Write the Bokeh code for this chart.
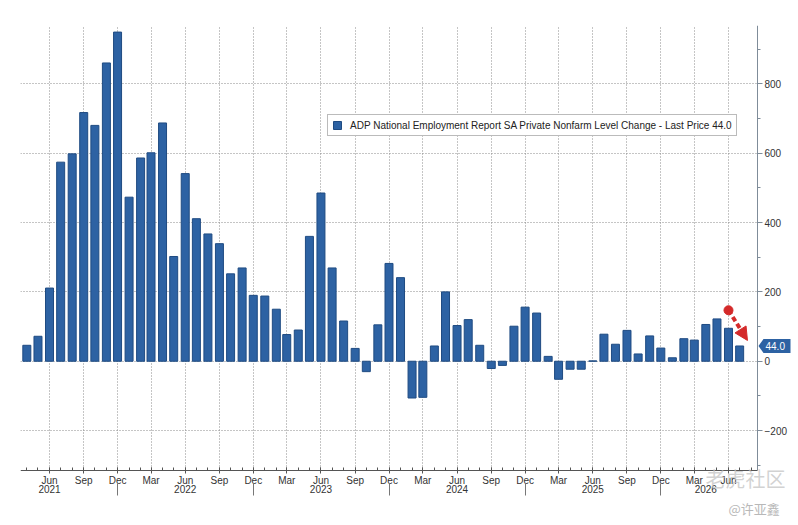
import pandas as pd
from bokeh.plotting import figure
from bokeh.models import (Range1d, DatetimeAxis, FixedTicker, DatetimeTickFormatter,
                          SingleIntervalTicker, Legend, LegendItem, Label, Arrow,
                          NormalHead, PolyAnnotation, BoxAnnotation)
from bokeh.embed import file_html
from bokeh.resources import INLINE

# ---------------- data ----------------
first_month = "2021-04-01"
values = [46, 72, 211, 574, 598, 717, 680, 860, 949, 473, 586, 601, 687, 302, 541, 411,
          367, 339, 252, 269, 190, 188, 150, 77, 90, 360, 485, 269, 116, 37, -30, 105,
          282, 241, -106, -104, 44, 200, 103, 120, 46, -21, -12, 101, 156, 139, 14, -52,
          -23, -23, 1, 78, 49, 89, 21, 73, 38, 10, 65, 61, 106, 122, 95, 44]
series_name = "ADP National Employment Report SA Private Nonfarm Level Change"
quarter_months = [3, 6, 9, 12]
year_label_months = ["2021-06-01", "2022-06-01", "2023-06-01", "2024-06-01", "2025-06-01", "2026-04-01"]
year_sep_months = ["2021-12-01", "2022-12-01", "2023-12-01", "2024-12-01", "2025-12-01"]
plot_lo, plot_hi = -315, 968
arrow_from_value, arrow_to_value = 147, 60

BLUE = "#2d62a3"
RED = "#d42a2a"
FONT = "Liberation Sans"

dates = pd.date_range(first_month, periods=len(values), freq="MS")


def ms(d):
    return pd.Timestamp(d).timestamp() * 1000.0


DAY = 86400000.0
x_start = ms(dates[0]) - 17 * DAY
x_axis = ms(dates[-1]) + 48 * DAY          # where the value axis sits

PLOT_W, PLOT_H = 737, 445                    # chart area inside the axes
FW, FH = 776, 495                            # frame incl. axis strips
ms_px = (x_axis - x_start) / PLOT_W
u_px = (plot_hi - plot_lo) / PLOT_H
x_end = x_start + FW * ms_px
y_start = plot_hi - FH * u_px

p = figure(frame_width=FW, frame_height=FH, x_axis_type="datetime", y_axis_location="right",
           x_range=Range1d(x_start, x_end), y_range=Range1d(y_start, plot_hi),
           output_backend="svg", toolbar_location=None,
           min_border_left=20, min_border_top=25, min_border_right=0, min_border_bottom=0)
p.outline_line_color = None
p.background_fill_color = "white"

bars = p.vbar(x=dates, top=values, bottom=0, width=21.5 * DAY,
              fill_color=BLUE, line_color="#1f4b82", line_width=1)

# ---------------- grids ----------------
quarter_ticks = [ms(d) for d in dates if d.month in quarter_months]
month_ticks = [ms(d) for d in dates] + [ms(dates[-1] + pd.DateOffset(months=1))]

p.xgrid.ticker = FixedTicker(ticks=quarter_ticks)
p.ygrid.ticker = SingleIntervalTicker(interval=200)
for g in (p.xgrid, p.ygrid):
    g.grid_line_color = "#8a8a8a"
    g.grid_line_dash = "1 2"
    g.grid_line_width = 1

# white strips outside the chart area (under the axes)
p.add_layout(BoxAnnotation(left=x_axis, right=x_end, bottom=y_start, top=plot_hi,
                           fill_color="white", fill_alpha=1, line_color=None, level="underlay"))
p.add_layout(BoxAnnotation(left=x_start, right=x_end, bottom=y_start, top=plot_lo,
                           fill_color="white", fill_alpha=1, line_color=None, level="underlay"))

# ---------------- axes ----------------
xa = p.xaxis[0]
xa.fixed_location = plot_lo
xa.bounds = (x_start, x_axis)
xa.ticker = FixedTicker(ticks=quarter_ticks, minor_ticks=month_ticks)
xa.formatter = DatetimeTickFormatter(months="%b", days="%b", years="%b")
xa.axis_line_color = "#555555"
xa.major_tick_line_color = "#555555"
xa.minor_tick_line_color = "#555555"
xa.major_tick_in = 3
xa.major_tick_out = 3
xa.minor_tick_in = 3
xa.minor_tick_out = 0
xa.major_label_standoff = 1
xa.major_label_text_font = FONT
xa.major_label_text_font_size = "10px"
xa.major_label_text_color = "#333333"

ya = DatetimeAxis(fixed_location=plot_lo - 13 * u_px, bounds=(x_start, x_axis))
ya.ticker = FixedTicker(ticks=[ms(d) for d in year_label_months],
                        minor_ticks=[ms(d) for d in year_sep_months])
ya.formatter = DatetimeTickFormatter(months="%Y", days="%Y", years="%Y")
ya.axis_line_color = None
ya.major_tick_line_color = None
ya.minor_tick_line_color = "#777777"
ya.minor_tick_in = 0
ya.minor_tick_out = 12
ya.major_label_standoff = -11
ya.major_label_text_font = FONT
ya.major_label_text_font_size = "10px"
ya.major_label_text_color = "#333333"
p.add_layout(ya, "below")

yax = p.yaxis[0]
yax.fixed_location = x_axis
yax.bounds = (plot_lo, plot_hi)
yax.ticker = SingleIntervalTicker(interval=200, num_minor_ticks=2)
yax.axis_line_color = "#7f8c99"
yax.major_tick_line_color = "#7f8c99"
yax.minor_tick_line_color = "#7f8c99"
yax.major_tick_in = 0
yax.major_tick_out = 5
yax.minor_tick_in = 0
yax.minor_tick_out = 3
yax.major_label_standoff = 2
yax.major_label_text_font = FONT
yax.major_label_text_font_size = "10px"
yax.major_label_text_color = "#333333"

# ---------------- legend ----------------
legend = Legend(items=[LegendItem(label=f"{series_name} - Last Price {values[-1]:.1f}",
                                  renderers=[bars])],
                location=(307, 334 + (FH - PLOT_H)), orientation="vertical")
legend.label_text_font = FONT
legend.label_text_font_size = "10px"
legend.label_text_color = "#222222"
legend.glyph_width = 10
legend.glyph_height = 10
legend.label_standoff = 8
legend.label_height = 12
legend.padding = 4
legend.margin = 0
legend.border_line_color = "#777777"
legend.border_line_width = 1
legend.background_fill_color = "white"
legend.background_fill_alpha = 1
p.add_layout(legend)

# ---------------- red arrow ----------------
a_x0 = ms(dates[-2])
a_x1 = ms(dates[-1]) + 21 * DAY
p.add_layout(Arrow(end=NormalHead(size=13, fill_color=RED, line_color=RED),
                   x_start=a_x0, y_start=arrow_from_value, x_end=a_x1, y_end=arrow_to_value,
                   line_color=RED, line_width=4, line_dash="5 3"))
p.scatter(x=[a_x0], y=[arrow_from_value], size=9, fill_color=RED, line_color=RED)

# ---------------- last value tag ----------------
last = values[-1]
tag = PolyAnnotation(
    xs=[x_axis + 1 * ms_px, x_axis + 6 * ms_px, x_axis + 33 * ms_px, x_axis + 33 * ms_px, x_axis + 6 * ms_px],
    ys=[last, last + 7 * u_px, last + 7 * u_px, last - 7 * u_px, last - 7 * u_px],
    xs_units="data", ys_units="data", fill_color=BLUE, fill_alpha=1, line_color=None,
    level="overlay")
p.add_layout(tag)
p.add_layout(Label(x=x_axis, y=last, x_offset=8, text=f"{last:.1f}", text_color="white",
                   text_font=FONT, text_font_size="10px", text_baseline="middle",
                   text_align="left", level="overlay"))

# ---------------- watermarks ----------------
p.add_layout(Label(x=705, y=478, x_units="canvas", y_units="canvas", text="老虎社区",
                   text_font="Noto Sans CJK SC", text_font_size="20px", text_color="#c4c4c4",
                   text_alpha=0.75, text_baseline="middle", text_align="left", level="overlay"))
p.add_layout(Label(x=728, y=508, x_units="canvas", y_units="canvas", text="@许亚鑫",
                   text_font="Noto Sans CJK SC", text_font_size="13px", text_color="#b8b8b8",
                   text_baseline="middle", text_align="left", level="overlay"))

open("out.html", "w").write(file_html(p, INLINE))
